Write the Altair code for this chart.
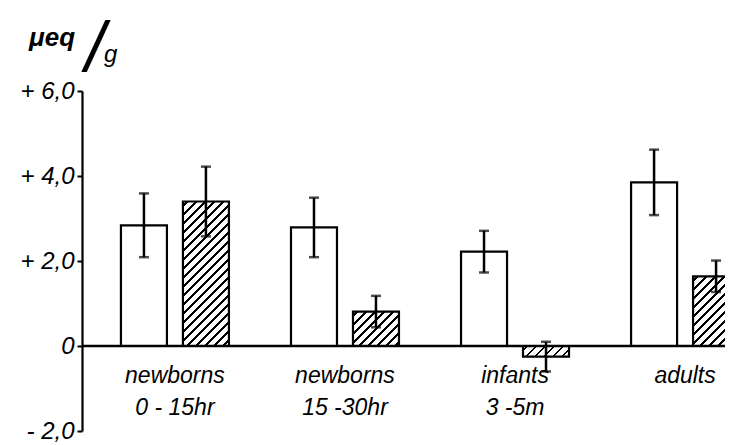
import altair as alt
import pandas as pd

# ---- data ----
groups = ["newborns|0 - 15hr", "newborns|15 -30hr", "infants|3 -5m", "adults|"]
series = ["open", "hatched"]
open_values = [2.84, 2.79, 2.22, 3.85]
open_errors = [0.75, 0.70, 0.49, 0.77]
hatched_values = [3.40, 0.81, -0.25, 1.64]
hatched_errors = [0.82, 0.37, 0.35, 0.37]
y_tick_values = [-2, 0, 2, 4, 6]
y_tick_labels = ["- 2,0", "0", "+ 2,0", "+ 4,0", "+ 6,0"]

rows = []
for g, v, e in zip(groups, open_values, open_errors):
    rows.append({"group": g, "series": "open", "value": v, "lo": v - e, "hi": v + e})
for g, v, e in zip(groups, hatched_values, hatched_errors):
    rows.append({"group": g, "series": "hatched", "value": v, "lo": v - e, "hi": v + e})
df = pd.DataFrame(rows)

# ---- styling ----
FONT = "Liberation Sans"
W, H = 643, 340
Y_MIN, Y_MAX = -2, 6
PX_PER_UNIT = H / (Y_MAX - Y_MIN)
BAR_W = 46
STRIPE_PERIOD = 9.0   # along x+y in px
STRIPE_WIDTH = 2.8

x_scale = alt.Scale(domain=groups, range=[0, 696], paddingInner=0.365, paddingOuter=0.229)
xo_scale = alt.Scale(domain=series, paddingInner=0.258, paddingOuter=0)
y_scale = alt.Scale(domain=[Y_MIN, Y_MAX], nice=False, zero=False)

label_map = "{" + ",".join(f"'{v}':'{l}'" for v, l in zip(y_tick_values, y_tick_labels)) + "}"

base = alt.Chart(df)
xenc = alt.X("group:N", scale=x_scale, axis=None, sort=groups)
xoenc = alt.XOffset("series:N", scale=xo_scale, sort=series)

open_bars = base.transform_filter(alt.datum.series == "open").mark_bar(
    fill="white", stroke="black", strokeWidth=2.2, clip=True
).encode(
    x=xenc, xOffset=xoenc,
    y=alt.Y("value:Q", scale=y_scale,
            axis=alt.Axis(values=y_tick_values, labelExpr=f"{label_map}[datum.value]",
                          title=None, grid=False, domainColor="black", domainWidth=2.2,
                          tickColor="black", tickWidth=2, tickSize=5, labelPadding=3,
                          labelFont=FONT, labelFontStyle="italic", labelFontSize=24,
                          labelColor="black")),
)


def hatch_gradient(value):
    h = max(abs(value) * PX_PER_UNIT, 1.0)
    w = BAR_W
    r = h / w
    k = (1 + r) / (1 + r * r)
    total = w + h
    stops = [alt.GradientStop(offset=0, color="white")]
    pos = 3.0
    while pos + STRIPE_WIDTH < total:
        a = pos / total
        b = (pos + STRIPE_WIDTH) / total
        stops += [alt.GradientStop(offset=a, color="white"),
                  alt.GradientStop(offset=a, color="black"),
                  alt.GradientStop(offset=b, color="black"),
                  alt.GradientStop(offset=b, color="white")]
        pos += STRIPE_PERIOD
    stops.append(alt.GradientStop(offset=1, color="white"))
    return alt.Gradient(gradient="linear", stops=stops, x1=0, y1=0, x2=k, y2=k * r)


hatched_layers = []
for g, v in zip(groups, hatched_values):
    hatched_layers.append(
        base.transform_filter((alt.datum.series == "hatched") & (alt.datum.group == g))
        .mark_bar(fill=hatch_gradient(v), stroke="black", strokeWidth=2.2, clip=True)
        .encode(x=xenc, xOffset=xoenc, y=alt.Y("value:Q", scale=y_scale))
    )

err_rules = base.mark_rule(color="black", strokeWidth=2.5, clip=True).encode(
    x=xenc, xOffset=xoenc, y=alt.Y("lo:Q", scale=y_scale), y2="hi:Q"
)
cap_hi = base.mark_tick(color="black", size=10, thickness=2.5, clip=True).encode(
    x=xenc, xOffset=xoenc, y=alt.Y("hi:Q", scale=y_scale)
)
cap_lo = base.mark_tick(color="black", size=10, thickness=2.5, clip=True).encode(
    x=xenc, xOffset=xoenc, y=alt.Y("lo:Q", scale=y_scale)
)

zero_line = alt.Chart(pd.DataFrame({"z": [0]})).mark_rule(color="black", strokeWidth=2.5).encode(
    y=alt.Y("z:Q", scale=y_scale)
)

cat_df = pd.DataFrame({"group": groups, "label": [g.replace("|", "\n") for g in groups]})
cat_labels = alt.Chart(cat_df).mark_text(
    lineBreak="\n", baseline="alphabetic", align="center", dy=37, lineHeight=32,
    font=FONT, fontStyle="italic", fontSize=23, color="black"
).encode(x=alt.X("group:N", scale=x_scale, axis=None, sort=groups),
         y=alt.datum(0), text="label:N")

unit_a = alt.Chart(pd.DataFrame({"t": ["μeq"]})).mark_text(
    align="left", baseline="alphabetic", font=FONT, fontStyle="italic", fontWeight="bold",
    fontSize=26, color="black"
).encode(x=alt.value(-53), y=alt.value(-45), text="t:N")
unit_slash = alt.Chart(pd.DataFrame({"t": ["/"]})).mark_text(
    align="center", baseline="alphabetic", font=FONT, fontStyle="italic", fontSize=70,
    color="black"
).encode(x=alt.value(13), y=alt.value(-20), text="t:N")
unit_g = alt.Chart(pd.DataFrame({"t": ["g"]})).mark_text(
    align="left", baseline="alphabetic", font=FONT, fontStyle="italic", fontSize=24,
    color="black"
).encode(x=alt.value(22), y=alt.value(-29), text="t:N")

chart = alt.layer(
    open_bars, *hatched_layers, zero_line, err_rules, cap_hi, cap_lo, cat_labels,
    unit_a, unit_slash, unit_g
).properties(
    width=W, height=H,
    background="white",
    autosize=alt.AutoSizeParams(type="none"),
    padding={"left": 74, "top": 83, "right": 0, "bottom": 14},
).configure_view(strokeWidth=0, stroke="transparent").configure_axis(grid=False)

chart.save("out.html", embed_options={"renderer": "svg", "actions": False})
